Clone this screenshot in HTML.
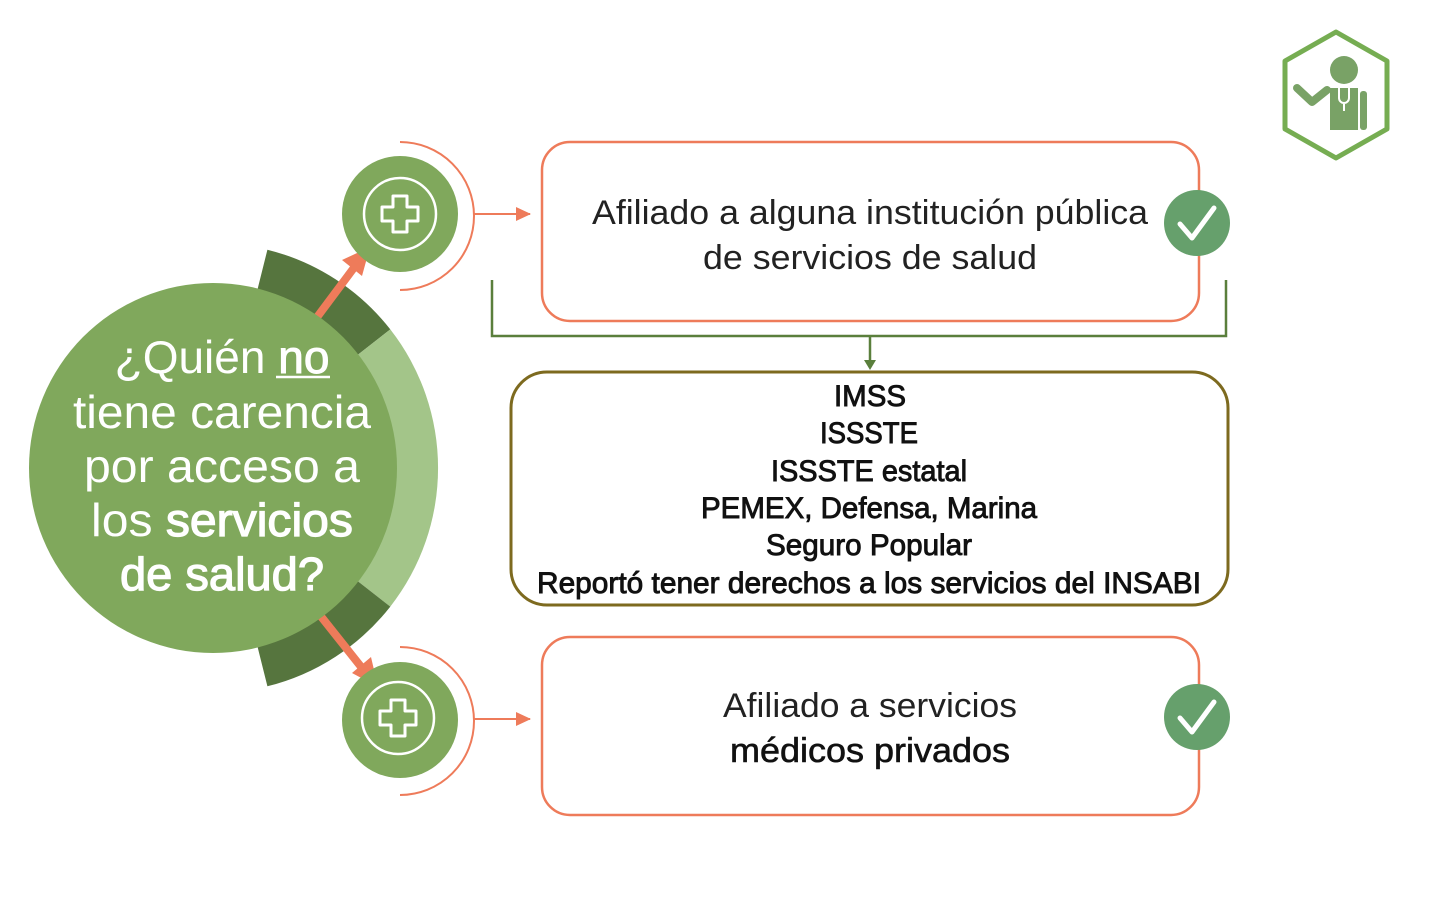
<!DOCTYPE html>
<html><head><meta charset="utf-8"><style>html,body{margin:0;padding:0;background:#fff;}svg{display:block}</style></head>
<body>
<svg width="1446" height="906" viewBox="0 0 1446 906" xmlns="http://www.w3.org/2000/svg" font-family="'Liberation Sans', sans-serif">
<defs>
<marker id="ao" markerWidth="16" markerHeight="16" refX="14" refY="8" orient="auto" markerUnits="userSpaceOnUse"><path d="M0,1 L15,8 L0,15 z" fill="#ee7b5a"/></marker>
</defs>
<path d="M213,468 L267.4,249.7 A225,225 0 0 1 390.3,329.4 Z" fill="#56753e"/>
<path d="M213,468 L390.3,329.4 A225,225 0 0 1 390.3,606.6 Z" fill="#a3c589"/>
<path d="M213,468 L390.3,606.6 A225,225 0 0 1 267.4,686.3 Z" fill="#56753e"/>
<line x1="300" y1="340" x2="356" y2="265" stroke="#ee7b5a" stroke-width="8"/>
<polygon points="370,247 342,260 362,276" fill="#ee7b5a"/>
<line x1="300" y1="590" x2="362" y2="668" stroke="#ee7b5a" stroke-width="8"/>
<polygon points="378,687 352,673 371,657" fill="#ee7b5a"/>
<ellipse cx="213" cy="468" rx="184" ry="185" fill="#80a85c"/>
<g fill="#fff" font-size="46" text-anchor="middle">
<text x="222" y="373">¿Quién <tspan stroke="#fff" stroke-width="1">no</tspan></text>
<line x1="276" y1="377" x2="330" y2="377" stroke="#fff" stroke-width="2.5"/>
<text x="222" y="428" textLength="298" lengthAdjust="spacingAndGlyphs">tiene carencia</text>
<text x="222" y="482" textLength="276" lengthAdjust="spacingAndGlyphs">por acceso a</text>
<text x="222" y="536" textLength="262" lengthAdjust="spacingAndGlyphs">los <tspan stroke="#fff" stroke-width="1.2">servicios</tspan></text>
<text x="222" y="590" textLength="204" lengthAdjust="spacingAndGlyphs" stroke="#fff" stroke-width="1.2">de salud?</text>
</g>
<g>
<path d="M400,142 A73,73 0 0 1 400,290" fill="none" stroke="#ee7b5a" stroke-width="2"/>
<circle cx="400" cy="214" r="58" fill="#80a85c"/>
<circle cx="400" cy="214" r="36" fill="none" stroke="#fff" stroke-width="2.5"/>
<path d="M393,196 h14 v11 h11 v14 h-11 v11 h-14 v-11 h-11 v-14 h11 z" fill="none" stroke="#fff" stroke-width="3" stroke-linejoin="round"/>
<line x1="473" y1="214" x2="530" y2="214" stroke="#ee7b5a" stroke-width="2" marker-end="url(#ao)"/>
</g>
<g>
<path d="M400,647 A73,73 0 0 1 400,795" fill="none" stroke="#ee7b5a" stroke-width="2"/>
<circle cx="400" cy="720" r="58" fill="#80a85c"/>
<circle cx="398" cy="718" r="36" fill="none" stroke="#fff" stroke-width="2.5"/>
<path d="M391,700 h14 v11 h11 v14 h-11 v11 h-14 v-11 h-11 v-14 h11 z" fill="none" stroke="#fff" stroke-width="3" stroke-linejoin="round"/>
<line x1="473" y1="719" x2="530" y2="719" stroke="#ee7b5a" stroke-width="2" marker-end="url(#ao)"/>
</g>
<path d="M492,280 V336 H1226 V280" fill="none" stroke="#5a7f3c" stroke-width="2.5"/>
<line x1="870" y1="336" x2="870" y2="362" stroke="#5a7f3c" stroke-width="2.5"/>
<polygon points="864,360 876,360 870,370" fill="#5a7f3c"/>
<rect x="542" y="142" width="657" height="179" rx="28" fill="#fff" stroke="#ee7b5a" stroke-width="2.5"/>
<g font-size="34" fill="#222" text-anchor="middle">
<text x="870" y="224" textLength="556" lengthAdjust="spacingAndGlyphs">Afiliado a alguna institución pública</text>
<text x="870" y="269" textLength="334" lengthAdjust="spacingAndGlyphs">de servicios de salud</text>
</g>
<circle cx="1197" cy="223" r="33" fill="#66a06c"/>
<path d="M1180,224 L1192,238 L1214,208" fill="none" stroke="#fff" stroke-width="5" stroke-linecap="round" stroke-linejoin="round"/>
<rect x="511" y="372" width="717" height="233" rx="36" fill="#fff" stroke="#7d6a1f" stroke-width="3"/>
<g font-size="30" fill="#111" text-anchor="middle" stroke="#111" stroke-width="0.9">
<text x="870" y="406" textLength="72" lengthAdjust="spacingAndGlyphs">IMSS</text>
<text x="869" y="443" textLength="98" lengthAdjust="spacingAndGlyphs">ISSSTE</text>
<text x="869" y="481" textLength="196" lengthAdjust="spacingAndGlyphs">ISSSTE estatal</text>
<text x="869" y="518" textLength="336" lengthAdjust="spacingAndGlyphs">PEMEX, Defensa, Marina</text>
<text x="869" y="555" textLength="206" lengthAdjust="spacingAndGlyphs">Seguro Popular</text>
<text x="869" y="593" textLength="664" lengthAdjust="spacingAndGlyphs">Reportó tener derechos a los servicios del INSABI</text>
</g>
<rect x="542" y="637" width="657" height="178" rx="28" fill="#fff" stroke="#ee7b5a" stroke-width="2.5"/>
<g font-size="34" fill="#222" text-anchor="middle">
<text x="870" y="717" textLength="294" lengthAdjust="spacingAndGlyphs">Afiliado a servicios</text>
<text x="870" y="762" textLength="280" lengthAdjust="spacingAndGlyphs" fill="#111" stroke="#111" stroke-width="0.6">médicos privados</text>
</g>
<circle cx="1197" cy="717" r="33" fill="#66a06c"/>
<path d="M1180,718 L1192,732 L1214,702" fill="none" stroke="#fff" stroke-width="5" stroke-linecap="round" stroke-linejoin="round"/>
<polygon points="1336,32 1387,61 1387,129 1336,158 1285,129 1285,61" fill="#fff" stroke="#76ad52" stroke-width="5" stroke-linejoin="round"/>
<circle cx="1344" cy="70" r="14" fill="#79a266"/>
<path d="M1297,88 L1312,102 L1327,90" fill="none" stroke="#79a266" stroke-width="8" stroke-linecap="round" stroke-linejoin="round"/>
<rect x="1330" y="88" width="28" height="42" fill="#79a266"/>
<rect x="1360" y="91" width="7" height="39" rx="3" fill="#79a266"/>
<path d="M1339,88 v10 a5,5 0 0 0 10,0 v-10 M1344,103 v8" fill="none" stroke="#fff" stroke-width="2"/>
</svg>
</body></html>
